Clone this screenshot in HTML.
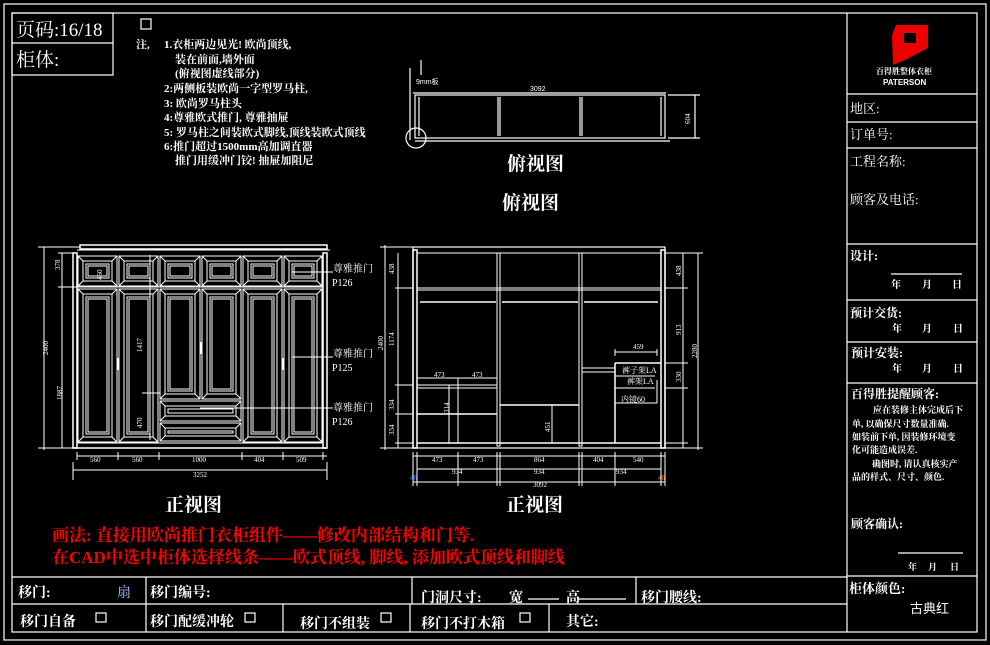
<!DOCTYPE html>
<html><head><meta charset="utf-8">
<style>
html,body{margin:0;padding:0;background:#000;}
svg{display:block}
text{font-family:"Liberation Serif","Noto Serif CJK SC","WenQuanYi Zen Hei",serif;fill:#fff}
.s{font-family:"Liberation Sans","WenQuanYi Zen Hei",sans-serif}
.b{font-weight:bold}
</style></head><body>
<svg id="svg" width="990" height="645" viewBox="0 0 990 645" xmlns="http://www.w3.org/2000/svg">
<rect width="990" height="645" fill="#000"/>
<g stroke="#fff" fill="none" stroke-width="1.2">
<rect x="4" y="4" width="982" height="636"/>
<rect x="12" y="13" width="965" height="619"/>
<rect x="12" y="13" width="101" height="62"/>
<line x1="12" y1="43" x2="113" y2="43"/>
<rect x="141" y="19" width="10" height="10"/>
<line x1="847" y1="13" x2="847" y2="632"/>
<line x1="847" y1="94" x2="977" y2="94"/>
<line x1="847" y1="122" x2="977" y2="122"/>
<line x1="847" y1="148" x2="977" y2="148"/>
<line x1="847" y1="244" x2="977" y2="244"/>
<line x1="847" y1="300" x2="977" y2="300"/>
<line x1="847" y1="342" x2="977" y2="342"/>
<line x1="847" y1="383" x2="977" y2="383"/>
<line x1="847" y1="576" x2="977" y2="576"/>
<line x1="891" y1="274" x2="962" y2="274"/>
<line x1="898" y1="553" x2="963" y2="553"/>
<line x1="12" y1="577" x2="847" y2="577"/>
<line x1="12" y1="604" x2="847" y2="604"/>
<line x1="146" y1="577" x2="146" y2="632"/>
<line x1="412" y1="577" x2="412" y2="604"/>
<line x1="636" y1="577" x2="636" y2="604"/>
<line x1="283" y1="604" x2="283" y2="632"/>
<line x1="410" y1="604" x2="410" y2="632"/>
<line x1="549" y1="604" x2="549" y2="632"/>
<line x1="528" y1="599" x2="559" y2="599"/>
<line x1="578" y1="599" x2="626" y2="599"/>
<rect x="96" y="613" width="10" height="9"/>
<rect x="245" y="613" width="10" height="9"/>
<rect x="381" y="613" width="10" height="9"/>
<rect x="520" y="613" width="10" height="9"/>
<rect x="415" y="95" width="250" height="43"/>
<line x1="419" y1="97" x2="419" y2="136"/><line x1="661" y1="97" x2="661" y2="136"/>
<line x1="498" y1="97" x2="498" y2="136"/><line x1="500" y1="97" x2="500" y2="136"/>
<line x1="580" y1="97" x2="580" y2="136"/><line x1="582" y1="97" x2="582" y2="136"/>
<line x1="415" y1="141" x2="670" y2="141"/>
<line x1="413" y1="93" x2="666" y2="93"/>
<line x1="668" y1="95" x2="700" y2="95"/><line x1="695" y1="95" x2="695" y2="138"/><line x1="668" y1="138" x2="700" y2="138"/>
<line x1="410" y1="68" x2="410" y2="140"/><line x1="421" y1="60" x2="421" y2="75"/>
<circle cx="416" cy="138" r="10"/>
</g>
<g id="draw" stroke="#fff" fill="none" stroke-width="1"></g>

<text x="16" y="36" font-size="19">页码:16/18</text>
<text x="16" y="66" font-size="19">柜体:</text>
<g font-size="11" class="b">
<text x="136" y="48">注,</text>
<text x="164" y="48">1.衣柜两边见光! 欧尚顶线,</text>
<text x="175" y="63">装在前面,墙外面</text>
<text x="175" y="77">(俯视图虚线部分)</text>
<text x="164" y="92">2:两侧板装欧尚一字型罗马柱,</text>
<text x="164" y="107">3: 欧尚罗马柱头</text>
<text x="164" y="121">4:尊雅欧式推门, 尊雅抽屉</text>
<text x="164" y="136">5: 罗马柱之间装欧式脚线,顶线装欧式顶线</text>
<text x="164" y="150">6:推门超过1500mm高加调直器</text>
<text x="175" y="164">推门用缓冲门铰! 抽屉加阻尼</text>
</g>
<text x="416" y="84" font-size="7" class="s">9mm板</text>
<text x="530" y="91" font-size="7" class="s">3092</text>
<text x="507" y="170" font-size="19" class="b">俯视图</text>
<text x="502" y="209" font-size="19" class="b">俯视图</text>
<text x="165" y="511" font-size="19" class="b">正视图</text>
<text x="506" y="511" font-size="19" class="b">正视图</text>
<text x="52" y="541" font-size="17" class="b" style="fill:#f00">画法: 直接用欧尚推门衣柜组件——修改内部结构和门等.</text>
<text x="52" y="563" font-size="17" class="b" style="fill:#f00">在CAD中选中柜体选择线条——欧式顶线, 脚线, 添加欧式顶线和脚线</text>
<g font-size="10" class="s">
<text x="333" y="272">尊雅推门</text><text x="332" y="286">P126</text>
<text x="333" y="357">尊雅推门</text><text x="332" y="371">P125</text>
<text x="333" y="411">尊雅推门</text><text x="332" y="425">P126</text>
</g>
<g font-size="13" class="s" style="fill:#dde">
<text x="850" y="113">地区:</text>
<text x="850" y="139">订单号:</text>
<text x="850" y="166">工程名称:</text>
<text x="850" y="204">顾客及电话:</text>
</g>
<g font-size="12" class="b">
<text x="850" y="260">设计:</text>
<text x="891" y="288" font-size="10">年</text><text x="922" y="288" font-size="10">月</text><text x="952" y="288" font-size="10">日</text>
<text x="850" y="317">预计交货:</text>
<text x="892" y="332" font-size="10">年</text><text x="922" y="332" font-size="10">月</text><text x="953" y="332" font-size="10">日</text>
<text x="851" y="357">预计安装:</text>
<text x="892" y="372" font-size="10">年</text><text x="922" y="372" font-size="10">月</text><text x="953" y="372" font-size="10">日</text>
<text x="851" y="398">百得胜提醒顾客:</text>
<text x="851" y="528">顾客确认:</text>
<text x="908" y="570" font-size="9">年</text><text x="928" y="570" font-size="9">月</text><text x="950" y="570" font-size="9">日</text>
<text x="849" y="593" font-size="13">柜体颜色:</text>
</g>
<g font-size="9" class="b">
<text x="873" y="413">应在装修主体完成后下</text>
<text x="852" y="427">单, 以确保尺寸数量准确.</text>
<text x="852" y="440">如装前下单, 因装修环境变</text>
<text x="852" y="453">化可能造成误差.</text>
<text x="872" y="467">确图时, 请认真核实产</text>
<text x="852" y="480">品的样式、尺寸、颜色.</text>
</g>
<text x="910" y="613" font-size="13" class="s">古典红</text>
<path d="M896 25 L928 25 L928 48 L905 60 L893 65 L892 35 Z" fill="#e00"/>
<rect x="904" y="33" width="12" height="10" fill="#000"/>
<path d="M904 33 L904 60 L899 62 L899 33Z" fill="#e00"/>
<text x="876" y="74" font-size="8" class="b">百得胜整体衣柜</text>
<text x="883" y="85" font-size="8" class="b s">PATERSON</text>
<g font-size="14" class="b">
<text x="18" y="597">移门:</text>
<text x="117" y="597" style="fill:#9cf" font-weight="normal">扇</text>
<text x="150" y="597">移门编号:</text>
<text x="421" y="602">门洞尺寸:</text><text x="509" y="602">宽</text><text x="566" y="602">高</text>
<text x="641" y="602">移门腰线:</text>
<text x="20" y="626">移门自备</text>
<text x="150" y="626">移门配缓冲轮</text>
<text x="300" y="628">移门不组装</text>
<text x="421" y="628">移门不打木箱</text>
<text x="566" y="626">其它:</text>
</g>
<g font-size="7" class="s">
<text x="90" y="462">560</text><text x="132" y="462">560</text><text x="192" y="462">1000</text><text x="254" y="462">404</text><text x="296" y="462">509</text>
<text x="193" y="477">3252</text>
<text x="432" y="462">473</text><text x="473" y="462">473</text><text x="534" y="462">864</text><text x="593" y="462">404</text><text x="633" y="462">540</text>
<text x="452" y="474">934</text><text x="534" y="474">934</text><text x="616" y="474">934</text>
<text x="533" y="487">3092</text>
<text x="410" y="480" style="fill:#69f">46</text><text x="658" y="480" style="fill:#f96">46</text>
<text x="434" y="377">473</text><text x="472" y="377">473</text>
<text x="633" y="349">459</text>
<text x="622" y="373" font-size="8">裤子架LA</text><text x="627" y="384" font-size="8">裤架LA</text><text x="621" y="402" font-size="8">内镜60</text>
</g>
<g font-size="7" class="s">
<text transform="translate(60,270) rotate(-90)">378</text>
<text transform="translate(48,355) rotate(-90)">2400</text>
<text transform="translate(62,400) rotate(-90)">1887</text>
<text transform="translate(102,280) rotate(-90)">460</text>
<text transform="translate(142,352) rotate(-90)">1417</text>
<text transform="translate(142,428) rotate(-90)">470</text>
<text transform="translate(394,274) rotate(-90)">438</text>
<text transform="translate(394,346) rotate(-90)">1174</text>
<text transform="translate(394,410) rotate(-90)">334</text>
<text transform="translate(394,435) rotate(-90)">334</text>
<text transform="translate(383,350) rotate(-90)">2400</text>
<text transform="translate(681,276) rotate(-90)">438</text>
<text transform="translate(681,335) rotate(-90)">913</text>
<text transform="translate(681,382) rotate(-90)">330</text>
<text transform="translate(697,358) rotate(-90)">2280</text>
<text transform="translate(449,413) rotate(-90)">314</text>
<text transform="translate(550,432) rotate(-90)">451</text>
<text transform="translate(690,124) rotate(-90)">604</text>
</g>
</svg>
<script>
(function(){
var g=document.getElementById('draw'),NS='http://www.w3.org/2000/svg';
function L(a,b,c,d,w){var e=document.createElementNS(NS,'line');e.setAttribute('x1',a);e.setAttribute('y1',b);e.setAttribute('x2',c);e.setAttribute('y2',d);if(w)e.setAttribute('stroke-width',w);g.appendChild(e);}
function R(x,y,w,h,sw){var e=document.createElementNS(NS,'rect');e.setAttribute('x',x);e.setAttribute('y',y);e.setAttribute('width',w);e.setAttribute('height',h);if(sw)e.setAttribute('stroke-width',sw);g.appendChild(e);}
function panel(x0,y0,x1,y1){R(x0,y0,x1-x0,y1-y0);var i=5;R(x0+i,y0+i,x1-x0-2*i,y1-y0-2*i);
L(x0,y0,x0+i,y0+i);L(x1,y0,x1-i,y0+i);L(x0,y1,x0+i,y1-i);L(x1,y1,x1-i,y1-i);
R(x0+8,y0+8,x1-x0-16,y1-y0-16);R(x0+10,y0+10,x1-x0-20,y1-y0-20);}
R(80,245,247,4,1.5);L(77,250,330,250);
R(73,253,4,195,1.5);R(323,253,4,195,1.5);
L(73,448,327,448,1.5);L(77,443,323,443);
var xs=[77,118,159,201,242,283,323];
for(var i=0;i<6;i++){panel(xs[i]+1,256,xs[i+1]-1,286);}
for(var i=0;i<6;i++){if(i==2||i==3)panel(xs[i]+1,289,xs[i+1]-1,399);else panel(xs[i]+1,289,xs[i+1]-1,442);}
panel(160,401,241,421);panel(160,423,241,441);
L(77,287,323,287);
L(118,358,118,370,3);L(201,342,201,354,3);L(283,358,283,370,3);
L(44,247,44,450);L(62,253,62,448);L(38,247,80,247);L(38,448,80,448);L(58,287,77,287);L(58,253,77,253);
L(77,456,327,456);L(73,470,327,470);L(73,462,73,480);L(327,462,327,480);
[77,118,159,242,283,323].forEach(function(x){L(x,452,x,460);});
L(150,255,150,440);L(142,393,160,393);
L(292,272,333,272);L(292,357,333,357);L(200,408,333,408);
R(413,247,252,201,1.2);
R(413,250,4,198,1.5);R(661,250,4,198,1.5);
L(417,253,661,253);R(497,253,3,193);R(579,253,3,193);
L(417,288,661,288);L(417,290,661,290);
L(420,302,496,302,1.5);L(502,302,578,302,1.5);L(584,302,658,302,1.5);
L(417,378,497,378);L(417,385,497,385);L(417,388,497,388);L(417,414,497,414,1.5);
L(458,378,458,443);L(449,385,449,443);
L(500,405,579,405,1.5);L(552,405,552,443);
L(582,368,615,368);L(582,372,615,372);L(615,363,615,443,1.5);L(615,363,661,363,1.5);
L(615,376,655,376);L(615,388,655,388);L(657,380,657,403);L(615,403,657,403);
L(417,443,661,443,1.5);
L(615,352,657,352);L(615,349,615,356);L(657,349,657,356);
L(385,245,385,450);L(398,253,398,448);L(380,247,413,247);L(380,448,413,448);
L(395,288,413,288);L(395,385,413,385);L(395,414,413,414);L(395,443,413,443);
L(683,253,683,448);L(698,253,698,450);L(665,253,703,253);L(665,448,703,448);L(665,288,688,288);L(665,363,688,363);L(665,388,688,388);L(665,443,688,443);
L(413,456,665,456);L(417,469,661,469);L(413,482,665,482);
[413,417,458,497,500,579,582,615,661,665].forEach(function(x){L(x,452,x,486);});
})();
</script>
</body></html>
